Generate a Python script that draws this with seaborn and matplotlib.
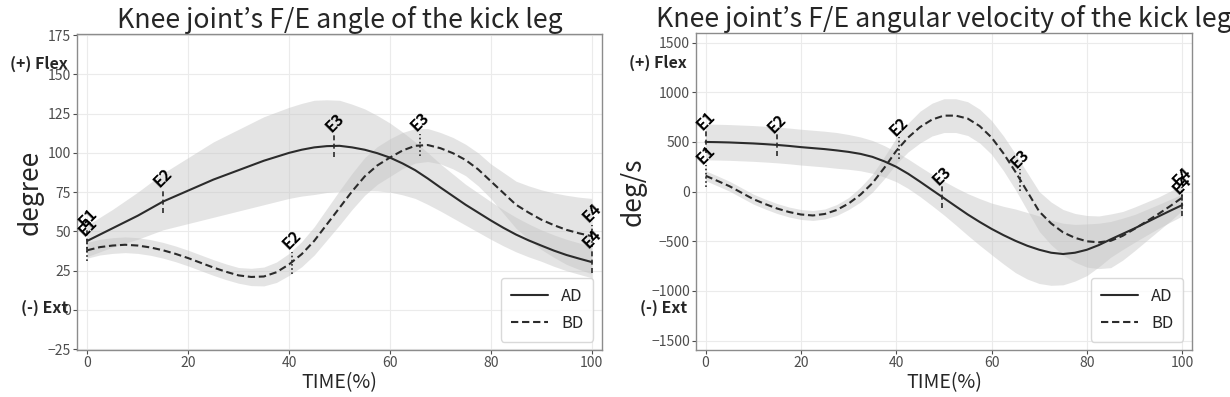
import numpy as np
import pandas as pd
import seaborn as sns
import matplotlib.pyplot as plt

# time axis (% of movement)
time_pct = [0, 2.5, 5, 7.5, 10, 12.5, 15, 17.5, 20, 22.5, 25, 27.5, 30, 32.5, 35, 37.5, 40,
            42.5, 45, 47.5, 50, 52.5, 55, 57.5, 60, 62.5, 65, 67.5, 70, 72.5, 75, 77.5, 80,
            82.5, 85, 87.5, 90, 92.5, 95, 97.5, 100]

# knee F/E angle (degree)
ang_ad = [44, 48, 52, 56, 60, 64.5, 69, 72.5, 76, 79.5, 83, 86, 89, 92, 95, 97.5, 100,
          102, 103.5, 104.3, 104.5, 103.5, 102, 99.8, 97, 93.3, 89, 83.7, 78, 72.5, 67, 62, 57,
          52.3, 48, 44.3, 41, 37.8, 35, 32.7, 30.5]
ang_ad_sd = [10, 11, 12, 13.5, 15, 16.5, 18, 19.5, 21, 22.5, 24, 25, 26, 27, 28, 28.5, 29,
             29.5, 30, 29.5, 29, 27.5, 26, 24, 22, 20, 18, 16.5, 15, 14, 13, 12.5, 12,
             11.5, 11, 10.5, 10, 10, 10, 10, 10]
ang_bd = [38, 40, 41, 41.5, 41, 39.8, 38, 35.7, 33, 30, 27, 24.3, 22, 21, 21.3, 24, 29,
          35.5, 44, 54.5, 65, 75.5, 85, 92, 97, 101.5, 104.5, 105, 103, 99.8, 95.5, 89.5, 82,
          74.5, 67, 62, 57.5, 54, 51, 48.8, 47]
ang_bd_sd = [5, 5, 5, 5, 5, 5, 5, 5, 5, 5, 5, 5, 5, 5.5, 6, 6.5, 7,
             8, 9, 10, 11, 11.5, 12, 12, 12, 11.5, 11, 10.5, 10, 10, 10, 10.5, 11,
             13, 15, 17, 19, 20.5, 22, 23, 24]

# knee F/E angular velocity (deg/s)
vel_ad = [500, 498, 495, 490, 485, 478, 470, 460, 448, 438, 428, 415, 400, 380, 350, 305, 250,
          180, 100, 17, -65, -148, -230, -305, -375, -438, -495, -545, -585, -615, -628, -615, -585,
          -538, -480, -425, -370, -310, -250, -192, -135]
vel_ad_sd = [180, 180, 180, 180, 180, 180, 180, 180, 180, 180, 180, 180, 175, 170, 165, 158, 150,
             148, 150, 158, 170, 188, 210, 235, 260, 290, 320, 335, 340, 328, 310, 285, 260,
             220, 180, 158, 140, 130, 120, 115, 110]
vel_bd = [160, 108, 55, -10, -75, -125, -170, -205, -230, -240, -225, -185, -120, -30, 85, 240, 410,
          545, 650, 725, 765, 765, 735, 660, 545, 385, 200, 0, -200, -320, -410, -465, -500,
          -510, -495, -445, -375, -300, -225, -145, -60]
vel_bd_sd = [50, 50, 50, 50, 50, 50, 50, 50, 50, 50, 50, 55, 60, 75, 90, 110, 130,
             145, 160, 165, 170, 170, 170, 170, 170, 175, 180, 190, 200, 215, 230, 245, 260,
             265, 270, 245, 220, 195, 170, 150, 130]

# events E1..E4
event_names = ["E1", "E2", "E3", "E4"]
ang_ev_ad_t = [0, 15, 49, 100]
ang_ev_ad_v = [44, 69, 104.5, 30.5]
ang_ev_bd_t = [0, 40.5, 66, 100]
ang_ev_bd_v = [38, 30, 105, 47]
vel_ev_ad_t = [0, 15, 49.5, 100]
vel_ev_ad_v = [500, 470, -50, -135]
vel_ev_bd_t = [0, 40.5, 66, 100]
vel_ev_bd_v = [160, 440, 120, -60]

sns.set_theme(style="white")
plt.rcParams["font.family"] = ["Noto Sans CJK KR", "DejaVu Sans"]

line_col = "#2b2b2b"
band_col = "#c4c4c4"


def draw_panel(ax, ad, ad_sd, bd, bd_sd, ev_ad, ev_bd, tick_h, lab_off, title, ylabel, ylim, yticks):
    df = pd.DataFrame({
        "t": time_pct * 2,
        "v": ad + bd,
        "group": ["AD"] * len(time_pct) + ["BD"] * len(time_pct),
    })
    ad = np.array(ad)
    bd = np.array(bd)
    ax.fill_between(time_pct, ad - np.array(ad_sd), ad + np.array(ad_sd), color=band_col, alpha=0.45, lw=0)
    ax.fill_between(time_pct, bd - np.array(bd_sd), bd + np.array(bd_sd), color=band_col, alpha=0.45, lw=0)
    sns.lineplot(data=df, x="t", y="v", style="group", dashes={"AD": "", "BD": (3.5, 1.8)},
                 color=line_col, lw=1.5, ax=ax)

    for (ts, vs), ls in zip([ev_ad, ev_bd], [(0, (3, 2)), (0, (1, 1.5))]):
        for name, tt, vv in zip(event_names, ts, vs):
            ax.plot([tt, tt], [vv - tick_h, vv + tick_h], color=line_col, lw=1.2, ls=ls)
            ax.text(tt, vv + lab_off, name, rotation=45, ha="center", va="center",
                    fontsize=11.5, fontweight="bold", color="black")

    ax.set_xlim(-2, 102)
    ax.set_ylim(*ylim)
    ax.set_xticks([0, 20, 40, 60, 80, 100])
    ax.set_yticks(yticks)
    ax.grid(True, color="#ebebeb", lw=0.8)
    for s in ax.spines.values():
        s.set_color("#8c8c8c")
        s.set_linewidth(1.0)
    ax.tick_params(axis="both", labelsize=10, colors="#4d4d4d", length=3, width=0.8,
                   bottom=True, left=True, pad=1.5)
    ax.set_title(title, fontsize=19.2, pad=4)
    ax.set_xlabel("TIME(%)", fontsize=14, labelpad=1)
    ax.set_ylabel(ylabel, fontsize=19, labelpad=3)
    leg = ax.legend(loc="lower right", fontsize=12, frameon=True, handlelength=2.2,
                    borderpad=0.6, labelspacing=0.6, title=None)
    leg.get_frame().set_edgecolor("#d0d0d0")
    ax.text(-0.018, 0.905, "(+) Flex", transform=ax.transAxes, ha="right", va="center",
            fontsize=11.5, fontweight="bold", clip_on=False)
    ax.text(-0.018, 0.133, "(-) Ext", transform=ax.transAxes, ha="right", va="center",
            fontsize=11.5, fontweight="bold", clip_on=False)


fig = plt.figure(figsize=(12.3, 3.97), dpi=100)
ax1 = fig.add_axes([0.0628, 0.1184, 0.4264, 0.7960])
ax2 = fig.add_axes([0.5659, 0.1184, 0.4030, 0.7993])

draw_panel(ax1, ang_ad, ang_ad_sd, ang_bd, ang_bd_sd,
           (ang_ev_ad_t, ang_ev_ad_v), (ang_ev_bd_t, ang_ev_bd_v), 7, 15,
           "Knee joint\u2019s F/E angle of the kick leg", "degree",
           (-25.5, 175.7), [-25, 0, 25, 50, 75, 100, 125, 150, 175])
draw_panel(ax2, vel_ad, vel_ad_sd, vel_bd, vel_bd_sd,
           (vel_ev_ad_t, vel_ev_ad_v), (vel_ev_bd_t, vel_ev_bd_v), 110, 210,
           "Knee joint\u2019s F/E angular velocity of the kick leg", "deg/s",
           (-1594, 1600), [-1500, -1000, -500, 0, 500, 1000, 1500])

fig.savefig("out.png", dpi=100)
